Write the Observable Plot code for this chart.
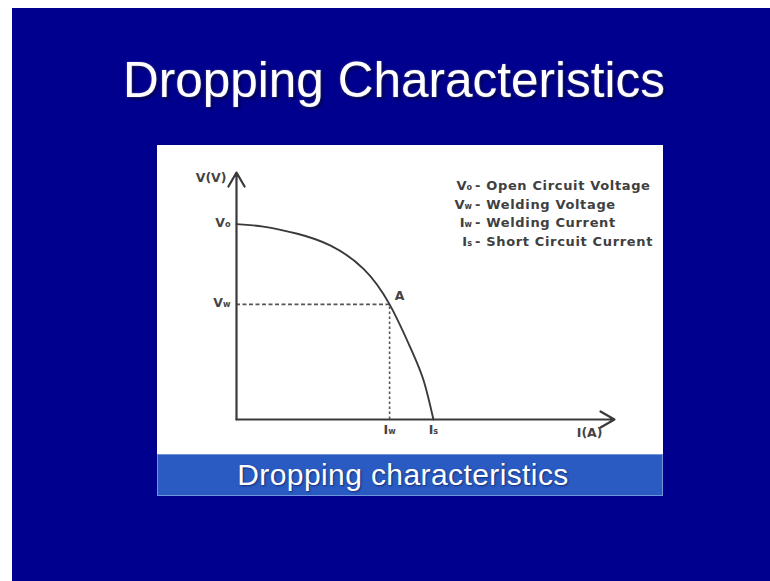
<!DOCTYPE html>
<html>
<head>
<meta charset="utf-8">
<script src="https://cdn.jsdelivr.net/npm/d3@7"></script>
<script src="https://cdn.jsdelivr.net/npm/@observablehq/plot@0.6"></script>
<style>
  html, body { margin: 0; padding: 0; background: #ffffff; width: 770px; height: 581px; overflow: hidden; }
  #slide { position: absolute; left: 12px; top: 8px; width: 758px; height: 573px; background: #00008e; }
  #title { position: absolute; left: 0; width: 788px; top: 55px; text-align: center; color: #ffffff;
           font-family: "Liberation Sans", Arial, sans-serif; font-size: 49.5px; line-height: 1;
           text-shadow: 0 0 2px rgba(255,255,255,0.35), 2px 2px 3px rgba(0,0,40,0.7); }
  #panel { position: absolute; left: 157px; top: 145px; width: 506px; height: 309px; background: #ffffff; }
  #legend { position: absolute; left: 296px; top: 32px; font-family: "DejaVu Sans", sans-serif;
            font-weight: bold; font-size: 13px; color: #404040; letter-spacing: 0.65px; }
  #legend .row { display: flex; white-space: nowrap; height: 18.7px; line-height: 18.7px; }
  #legend .term { width: 19px; text-align: right; letter-spacing: 0; }
  #legend .desc { padding-left: 3px; }
  sub { font-size: 0.62em; vertical-align: 0; line-height: 0; letter-spacing: 0; }
  #bar { position: absolute; left: 157px; top: 454px; width: 504px; height: 40px; background: #2a5bc2;
         border: 1px solid #6f93dc; }
  #bar span { position: absolute; left: 0; width: 490px; top: 5px; text-align: center; color: #ffffff;
              font-family: "Liberation Sans", Arial, sans-serif; font-size: 30px; line-height: 1;
              letter-spacing: 0.4px; text-shadow: 1px 1px 2px rgba(0,0,40,0.5); }
</style>
</head>
<body>
<div id="slide"></div>
<div id="title">Dropping Characteristics</div>
<div id="panel"><div id="chart"></div><div id="legend"></div></div>
<div id="bar"><span>Dropping characteristics</span></div>
<script>
// ---- data (arbitrary units 0..100 along each axis) ----
const iAxisMax = 100;           // end of the current axis (arrow tip)
const vAxisMax = 100;           // end of the voltage axis (arrow tip)
const curveI = [0, 7.1, 16.1, 24.9, 33.6, 40.5, 46.0, 49.5, 52.1];
const curveV = [79.1, 78.1, 75.2, 70.4, 61.0, 46.6, 29.1, 15.8, 0];
const Vo = 79.1, Vw = 46.6, Iw = 40.5, Is = 52.1;
const yTickLabels = ["V_o", "V_w"];
const yTickValues = [Vo, Vw];
const xTickLabels = ["I_w", "I_s"];
const xTickValues = [Iw, Is];
const yAxisTitle = "V(V)";
const xAxisTitle = "I(A)";
const pointLabel = "A";
const legendTerms = ["V_o", "V_w", "I_w", "I_s"];
const legendDescs = ["Open Circuit Voltage", "Welding Voltage", "Welding Current", "Short Circuit Current"];

// ---- build tables from the arrays ----
const curve = curveI.map((d, i) => ({I: d, V: curveV[i]}));
const yTicks = yTickValues.map((v, i) => ({V: v, label: yTickLabels[i]}));
const xTicks = xTickValues.map((v, i) => ({I: v, label: xTickLabels[i]}));
const axes = [
  {x1: 0, y1: 0, x2: 0, y2: vAxisMax},
  {x1: 0, y1: 0, x2: iAxisMax, y2: 0}
];

const ink = "#3a3a3a";
const labelFont = {fontSize: 12.5, fontWeight: "bold", fill: "#444", letterSpacing: "1px"};

const chart = Plot.plot({
  width: 506,
  height: 309,
  marginLeft: 79,
  marginRight: 49,
  marginTop: 27,
  marginBottom: 35,
  x: {domain: [0, iAxisMax], axis: null},
  y: {domain: [0, vAxisMax], axis: null},
  style: {background: "transparent", fontFamily: "'DejaVu Sans', sans-serif", overflow: "visible"},
  marks: [
    Plot.ruleY([Vw], {x1: 0, x2: Iw, stroke: "#555", strokeWidth: 1.6, strokeDasharray: "4,2.5"}),
    Plot.ruleX([Iw], {y1: 0, y2: Vw, stroke: "#555", strokeWidth: 1.6, strokeDasharray: "2.5,2.5"}),
    Plot.arrow(axes, {x1: "x1", y1: "y1", x2: "x2", y2: "y2", stroke: ink, strokeWidth: 2.2,
                      headLength: 11, insetStart: 0, insetEnd: 0}),
    Plot.line(curve, {x: "I", y: "V", curve: "natural", stroke: ink, strokeWidth: 1.9}),
    Plot.text(yTicks, {x: 0, y: "V", text: "label", textAnchor: "end", dx: -6, dy: -1, ...labelFont}),
    Plot.text(xTicks, {x: "I", y: 0, text: "label", dy: 10, ...labelFont}),
    Plot.text([yAxisTitle], {x: 0, y: vAxisMax, text: d => d, textAnchor: "end", dx: -10, dy: 5, ...labelFont, letterSpacing: "2px"}),
    Plot.text([xAxisTitle], {x: iAxisMax, y: 0, text: d => d, textAnchor: "end", dx: -12, dy: 13, ...labelFont}),
    Plot.text([pointLabel], {x: Iw, y: Vw, text: d => d, dx: 10, dy: -8, ...labelFont})
  ]
});

// turn "X_y" labels into a letter with a small subscript
chart.querySelectorAll("text").forEach(t => {
  const m = t.textContent.match(/^(.*)_(\w+)$/);
  if (!m) return;
  t.textContent = "";
  const a = document.createElementNS("http://www.w3.org/2000/svg", "tspan");
  a.textContent = m[1];
  const b = document.createElementNS("http://www.w3.org/2000/svg", "tspan");
  b.textContent = m[2];
  b.setAttribute("font-size", "0.65em");
  b.setAttribute("letter-spacing", "0");
  t.appendChild(a);
  t.appendChild(b);
});
document.getElementById("chart").appendChild(chart);

// legend
const legend = document.getElementById("legend");
legendTerms.forEach((term, i) => {
  const [main, sub] = term.split("_");
  const row = document.createElement("div");
  row.className = "row";
  const tEl = document.createElement("span");
  tEl.className = "term";
  tEl.innerHTML = main + "<sub>" + sub + "</sub>";
  const dEl = document.createElement("span");
  dEl.className = "desc";
  dEl.textContent = "- " + legendDescs[i];
  row.appendChild(tEl);
  row.appendChild(dEl);
  legend.appendChild(row);
});
</script>
</body>
</html>
